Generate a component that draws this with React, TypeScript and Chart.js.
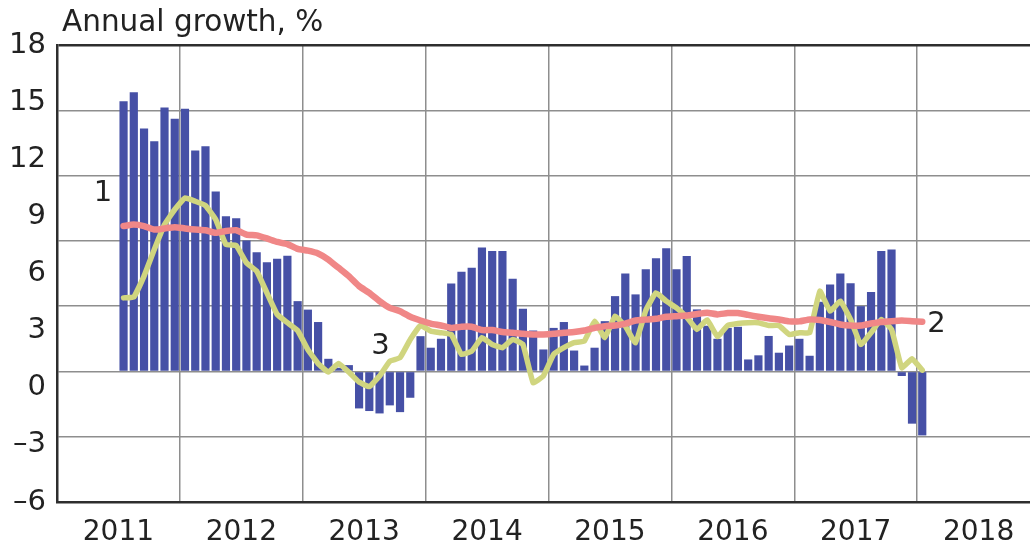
import React, { useEffect, useRef } from 'react';
import { Chart, registerables } from 'chart.js';

Chart.register(...registerables);

// Months are counted from January 2011 (0 = Jan 2011, 12 = Jan 2012 ...)
const firstMonthIndex = 6; // first observation: July 2011
const monthsShown = 96; // 2011 .. 2018 (8 years)
const yearLabels = ['2011', '2012', '2013', '2014', '2015', '2016', '2017', '2018'];
const yTickValues = [-6, -3, 0, 3, 6, 9, 12, 15, 18];
const yTickLabels = ['\u20136', '\u20133', '0', '3', '6', '9', '12', '15', '18'];
const titleText = 'Annual growth, %';

// Series 1: bars, Jul 2011 .. Jan 2018
const barValues = [
  12.42, 12.83, 11.16, 10.58, 12.13, 11.61,
  12.07, 10.15, 10.35, 8.27, 7.13, 7.04, 6.02, 5.48, 5.02, 5.18, 5.31, 3.23,
  2.84, 2.27, 0.58, 0.17, 0.29, -1.7, -1.82, -1.93, -1.56, -1.87, -1.21, 1.62,
  1.09, 1.5, 4.04, 4.58, 4.76, 5.7, 5.53, 5.53, 4.26, 2.88, 1.88, 1.01,
  2.0, 2.27, 0.96, 0.27, 1.09, 2.31, 3.46, 4.5, 3.54, 4.69, 5.2, 5.66,
  4.69, 5.3, 2.85, 2.1, 1.5, 2.0, 2.05, 0.55, 0.74, 1.63, 0.86, 1.19,
  1.5, 0.72, 3.2, 4.0, 4.5, 4.05, 3.0, 3.65, 5.53, 5.6, -0.21, -2.4,
  -2.94,
];

// Series 2: red line, Jul 2011 .. Jan 2018
const line2Values = [
  6.68, 6.75, 6.68, 6.52, 6.57, 6.63,
  6.57, 6.52, 6.49, 6.37, 6.45, 6.49, 6.29, 6.25, 6.11, 5.95, 5.85, 5.63,
  5.55, 5.42, 5.14, 4.76, 4.38, 3.92, 3.61, 3.23, 2.92, 2.77, 2.51, 2.34,
  2.2, 2.11, 2.0, 2.05, 2.05, 1.9, 1.9, 1.81, 1.78, 1.73, 1.7, 1.7,
  1.73, 1.78, 1.81, 1.88, 2.0, 2.08, 2.11, 2.2, 2.34, 2.38, 2.42, 2.51,
  2.54, 2.57, 2.64, 2.7, 2.62, 2.68, 2.68, 2.6, 2.51, 2.44, 2.39, 2.3,
  2.3, 2.39, 2.36, 2.27, 2.16, 2.11, 2.11, 2.2, 2.27, 2.31, 2.34, 2.31,
  2.28,
];

// Series 3: yellow-green line, Jul 2011 .. Jan 2018
const line3Values = [
  3.38, 3.42, 4.38, 5.6, 6.75, 7.44,
  7.97, 7.82, 7.62, 6.98, 5.83, 5.79, 4.99, 4.61, 3.61, 2.62, 2.24, 1.88,
  1.0, 0.36, -0.03, 0.37, -0.03, -0.49, -0.7, -0.21, 0.47, 0.63, 1.47, 2.11,
  1.85, 1.78, 1.7, 0.78, 0.93, 1.55, 1.24, 1.09, 1.47, 1.24, -0.52, -0.21,
  0.78, 1.09, 1.32, 1.39, 2.31, 1.55, 2.54, 2.08, 1.32, 2.8, 3.61, 3.23,
  2.92, 2.5, 1.93, 2.37, 1.6, 2.11, 2.2, 2.24, 2.24, 2.11, 2.11, 1.7,
  1.78, 1.78, 3.69, 2.77, 3.23, 2.39, 1.24, 1.78, 2.39, 1.93, 0.17, 0.58,
  0.06,
];

// Series number labels placed in data space (month, value)
const seriesLabelTexts = ['1', '2', '3'];
const seriesLabelMonths = [4.5, 85.9, 31.6];
const seriesLabelValues = [8.2, 2.15, 1.15];

const FONT = '"DejaVu Sans", "Noto Sans", sans-serif';
const TEXT_COLOR = '#222222';
const GRID_COLOR = '#8e8e8e';
const FRAME_COLOR = '#2e2e2e';

const toPoints = (values: number[]) =>
  values.map((v, i) => ({ x: firstMonthIndex + i + 0.5, y: v }));

const overlayPlugin = {
  id: 'overlayText',
  afterDatasetsDraw(chart: any) {
    const { ctx, chartArea, scales } = chart;
    ctx.save();
    ctx.fillStyle = TEXT_COLOR;
    ctx.font = `29.5px ${FONT}`;
    ctx.textAlign = 'left';
    ctx.textBaseline = 'alphabetic';
    ctx.fillText(titleText, chartArea.left + 5, chartArea.top - 14);
    ctx.font = `29px ${FONT}`;
    ctx.textAlign = 'center';
    ctx.textBaseline = 'middle';
    seriesLabelTexts.forEach((t, i) => {
      const px = scales.x.getPixelForValue(seriesLabelMonths[i]);
      const py = scales.y.getPixelForValue(seriesLabelValues[i]);
      ctx.fillText(t, px, py);
    });
    ctx.restore();
  },
};

export default function App() {
  const canvasRef = useRef<HTMLCanvasElement | null>(null);

  useEffect(() => {
    const canvas = canvasRef.current;
    if (!canvas) return;
    const chart = new Chart(canvas, {
      type: 'bar',
      data: {
        datasets: [
          {
            type: 'line',
            label: '2',
            data: toPoints(line2Values),
            borderColor: '#f08787',
            borderWidth: 6.5,
            pointRadius: 0,
            fill: false,
            tension: 0.15,
            borderJoinStyle: 'round',
            borderCapStyle: 'round',
            xAxisID: 'x',
            yAxisID: 'y',
            order: 1,
          } as any,
          {
            type: 'line',
            label: '3',
            data: toPoints(line3Values),
            borderColor: '#d0d57f',
            borderWidth: 5.5,
            pointRadius: 0,
            fill: false,
            tension: 0.1,
            borderJoinStyle: 'round',
            borderCapStyle: 'round',
            xAxisID: 'x',
            yAxisID: 'y',
            order: 2,
          } as any,
          {
            type: 'bar',
            label: '1',
            data: toPoints(barValues),
            backgroundColor: '#4650a6',
            borderWidth: 0,
            barPercentage: 0.8,
            categoryPercentage: 1,
            xAxisID: 'x',
            yAxisID: 'y',
            order: 3,
          } as any,
        ],
      },
      options: {
        responsive: false,
        animation: false,
        devicePixelRatio: 1,
        layout: { padding: { top: 45, right: 2, bottom: 0, left: 0 } },
        plugins: {
          legend: { display: false },
          tooltip: { enabled: false },
          title: { display: false },
        },
        scales: {
          x: {
            type: 'linear',
            position: 'bottom',
            min: 0,
            max: monthsShown,
            offset: false,
            weight: 0,
            afterBuildTicks: (s: any) => {
              s.ticks = yearLabels.concat(['']).map((_, i) => ({ value: i * 12 }));
            },
            ticks: { display: false },
            grid: { color: GRID_COLOR, lineWidth: 1.5, drawTicks: false, offset: false },
            border: { color: FRAME_COLOR, width: 2.5 },
            afterFit: (s: any) => {
              s.height = 0;
            },
          },
          xl: {
            type: 'linear',
            position: 'bottom',
            min: 0,
            max: monthsShown,
            offset: false,
            weight: 1,
            afterBuildTicks: (s: any) => {
              s.ticks = yearLabels.map((_, i) => ({ value: i * 12 + 6 }));
            },
            ticks: {
              callback: (_v: any, i: number) => yearLabels[i],
              font: { family: FONT, size: 28 },
              color: TEXT_COLOR,
              padding: 14,
              maxRotation: 0,
              autoSkip: false,
            },
            grid: { display: false, drawTicks: false },
            border: { display: false },
            afterFit: (s: any) => {
              s.height = 47;
            },
          },
          y: {
            type: 'linear',
            position: 'left',
            min: -6,
            max: 15,
            weight: 0,
            ticks: { stepSize: 3, display: false },
            grid: {
              color: (c: any) => (c.tick && c.tick.value === 15 ? FRAME_COLOR : GRID_COLOR),
              lineWidth: (c: any) => (c.tick && c.tick.value === 15 ? 2.5 : 1.5),
              drawTicks: false,
            },
            border: { color: FRAME_COLOR, width: 2.5 },
            afterFit: (s: any) => {
              s.width = 0;
            },
          },
          yl: {
            type: 'linear',
            position: 'left',
            min: -6,
            max: 18,
            weight: 1,
            afterBuildTicks: (s: any) => {
              s.ticks = yTickValues.map((v) => ({ value: v }));
            },
            ticks: {
              callback: (v: any) => yTickLabels[yTickValues.indexOf(Number(v))],
              font: { family: FONT, size: 29 },
              color: TEXT_COLOR,
              padding: 11,
              autoSkip: false,
            },
            grid: { display: false, drawTicks: false },
            border: { display: false },
            afterFit: (s: any) => {
              s.width = 57;
            },
          },
        },
      } as any,
      plugins: [overlayPlugin],
    });
    return () => chart.destroy();
  }, []);

  return (
    <div
      style={{
        position: 'fixed',
        left: 0,
        top: 0,
        width: 1030,
        height: 549,
        overflow: 'hidden',
        background: '#ffffff',
      }}
    >
      <canvas ref={canvasRef} width={1042} height={549} style={{ width: 1042, height: 549, display: 'block' }} />
    </div>
  );
}
